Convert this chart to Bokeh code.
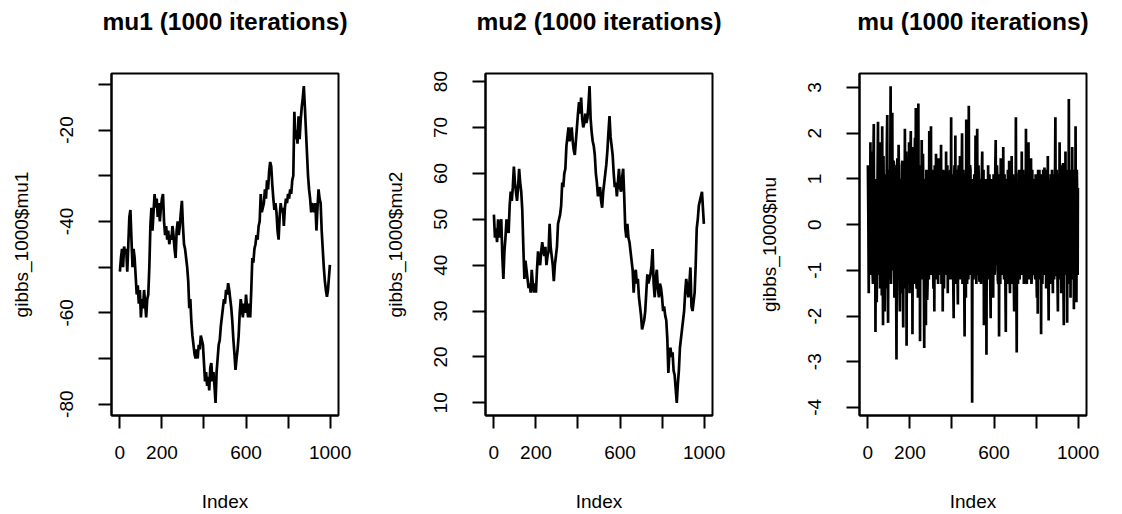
from bokeh.plotting import figure
from bokeh.layouts import row
from bokeh.models import Range1d, FixedTicker, Title
from bokeh.embed import file_html
from bokeh.resources import INLINE

# ---------------- data ----------------
titles = ["mu1 (1000 iterations)", "mu2 (1000 iterations)", "mu (1000 iterations)"]
ylabels = ["gibbs_1000$mu1", "gibbs_1000$mu2", "gibbs_1000$mu"]

# mu1: one reading every 5 iterations, plus the last iteration
mu1 = [
    -51, -48, -46, -50, -45.5, -47, -46, -51, -45, -39, -37.5, -44, -50, -46, -48, -52, -56, -54, -58, -55,
    -61, -57, -59, -55, -58, -61, -57, -56, -50, -41, -37, -42, -38, -34, -37, -35, -39, -36, -40, -37,
    -35, -34, -40, -43, -41, -44, -42, -45, -43, -44, -41, -43, -46, -48, -42, -40, -43, -41, -38, -35.5,
    -41, -45, -46, -48, -50, -53, -59, -57, -62, -65, -67, -69, -70, -68, -70, -67, -68, -65, -66, -67,
    -71, -75, -73, -76, -74, -77, -72, -71, -75, -73, -76, -79.7, -73, -70, -67, -66, -63, -61, -59, -57,
    -58, -55, -56, -53.5, -55, -57, -59, -62, -66, -69, -72.5, -70, -68, -65, -60, -57, -59, -61, -58, -60,
    -56, -59, -61, -58, -61, -55, -48, -49, -46, -45, -43, -44, -41, -40, -34, -38, -37, -36, -33, -35,
    -31, -33, -29, -27, -28, -32, -35, -37.5, -36, -38, -42, -44, -39, -36, -38, -37, -41, -37, -35, -36,
    -34, -35, -33, -34, -31, -30, -16, -22, -20, -23, -17, -22, -18, -15, -13, -10.4, -15, -20, -25, -30,
    -33, -35, -38, -36, -37, -38, -36, -42, -37, -33, -35, -36, -42, -46, -50, -53, -55, -56.5, -55, -52,
    -49.5,
]
idx_mu1 = [5 * i for i in range(len(mu1) - 1)] + [999]

# mu2: one reading every 5 iterations, plus the last iteration
mu2 = [
    51, 46, 48, 45, 50, 46, 49, 50, 42, 37, 43, 46, 50, 48, 47, 53, 56, 54, 57, 61.5,
    58, 56, 54, 57, 61, 58, 56, 52, 44, 37, 41, 39, 37, 35, 36, 34, 39, 36, 34, 36,
    34, 39, 43, 41, 40, 43, 45, 43, 42, 44, 40, 42, 43, 49, 44, 42, 40, 36.5, 40, 42,
    44, 49, 50, 51, 53, 58, 57, 60, 61, 66, 68, 70, 67, 68, 70, 67, 65, 64, 67, 70,
    73, 75.5, 73, 76.5, 72, 70, 71, 73, 71, 72, 75, 79, 72, 69, 67, 66, 64, 60, 58, 55,
    56, 57, 54, 52.5, 56, 58, 60, 62, 65, 69, 72.5, 68, 66, 64, 60, 57, 58, 55, 58, 61,
    57, 56, 59, 61, 55, 48, 46, 49, 46, 45, 43, 41, 39, 34, 38, 39, 36, 37, 33, 31,
    29, 26, 27, 28, 30, 34, 38, 36, 37, 38, 40, 43.5, 36, 33, 37, 39, 35, 33, 36, 35,
    33, 30, 31, 29, 28, 24, 16.5, 21, 22, 20, 21, 17, 16, 13, 10, 14, 17, 22, 24, 26,
    28, 30, 34, 37, 35, 33, 36, 39.5, 31, 30, 32, 34, 40, 48, 50, 53, 54, 55, 56, 52,
    49,
]
idx_mu2 = [5 * i for i in range(len(mu2) - 1)] + [999]

# mu: one reading every 2 iterations, plus the last iteration
mu = [
    1.3, 0.2, -1.5, 0.9, 0.6, -1.1, 1.8, -0.7, -0.9, 1.6, 0.4, -1.0, -1.3, 1.4, 2.2, -1.2, -0.5, 1.0, -2.35, 0.8,
    0.9, -1.7, -0.6, 1.1, 2.25, -0.9, -1.1, 1.65, 1.8, -1.4, -0.4, 1.2, 0.7, -1.55, 2.15, -0.6, -2.2, 1.5, 0.5, -1.2,
    -1.9, 0.9, 1.1, -1.4, -0.8, 1.7, 2.4, -1.1, -2.15, 1.2,
    0.3, 1.1, -1.2, 0.7, 3.03, -1.3, -0.6, 1.5, 2.45, -0.8, -1.0, 1.4, 1.3, -1.6, -0.7, 1.3, 0.8, -1.0, -2.95, 0.9,
    1.45, -1.2, -0.8, 1.75, 0.9, -1.3, -1.9, 1.0, 0.6, -1.5, -1.2, 1.3, 1.4, -1.1, -2.25, 0.8, 0.7, -1.4, 2.1, -0.7,
    -1.3, 1.6, -2.65, 1.0, 1.2, -1.3, -0.9, 1.1, 1.8, -1.5,
    -1.1, 1.2, 2.05, -1.0, -0.5, 1.7, -2.4, 0.9, 1.0, -1.3, -0.8, 1.4, 1.9, -0.8, 2.55, -1.2, -1.4, 1.0, 0.5, -1.6,
    2.65, -0.9, -1.1, 1.3, -2.55, 1.1, 0.8, -1.2, 1.85, -0.7, -1.2, 1.55, 0.6, -1.0, -2.7, 0.8, 1.0, -1.4, -2.2, 1.2,
    0.4, -1.65, -1.3, 1.1, 1.2, -1.2, 2.05, -0.8, -1.0, 1.3,
    2.15, -1.1, -0.7, 1.2, 0.9, -1.0, -1.4, 0.9, -1.9, 1.3, 0.8, -1.2, 1.55, -0.9, -1.2, 1.1, 0.5, -1.3, 1.45, -0.8,
    -1.0, 1.2, 0.3, -1.1, 1.75, -1.3, -0.8, 1.0, -1.9, 1.2, 1.1, -1.4, -0.6, 1.1, 0.9, -1.0, 1.6, -0.8, -1.1, 1.3,
    -1.5, 1.0, 0.7, -1.2, -0.9, 1.1, 1.2, -1.0, 2.35, -1.2,
    -1.0, 1.1, 0.6, -1.2, -2.05, 0.9, 1.3, -1.0, 1.95, -1.3, -0.9, 1.2, 0.4, -0.8, -1.75, 1.1, 1.3, -1.2, -0.7, 1.5,
    0.9, -1.1, -1.2, 1.0, 2.0, -1.3, -0.8, 1.2, 0.5, -1.0, -2.45, 0.9, 1.1, -1.6, 2.3, -0.9, -1.3, 1.1, 0.6, -1.2,
    2.6, -0.8, -1.0, 1.3, 1.2, -1.1, -0.6, 1.0, -3.9, 0.9,
    0.8, -1.2, -0.5, 1.1, 1.0, -1.0, 1.95, -0.9, -1.3, 1.2, 2.1, -1.1, -0.8, 1.3, 0.9, -1.2, -1.25, 1.0, 0.7, -1.3,
    -0.9, 1.1, 1.6, -1.0, -0.7, 1.2, -2.2, 0.8, 0.9, -1.3, -1.1, 1.0, -2.85, 0.9, 0.6, -1.1, 1.3, -1.2, -0.9, 1.1,
    0.8, -1.3, -2.05, 1.0, 0.5, -0.9, 0.9, -1.2, -1.6, 1.1,
    0.7, -1.1, -1.0, 1.2, 1.85, -0.9, -0.6, 1.3, 1.0, -1.2, -1.3, 1.0, -2.45, 1.1, 0.8, -1.3, 1.45, -1.0, -0.9, 1.2,
    0.6, -1.1, 1.7, -0.9, -1.2, 1.1, 0.4, -1.2, -2.35, 0.9, 1.0, -1.3, -0.8, 1.2, 0.5, -1.0, 1.4, -1.1, -1.5, 1.2,
    0.9, -1.3, 1.5, -0.8, -1.0, 1.1, 0.6, -1.2, -1.9, 1.0,
    0.9, -1.2, 2.35, -1.0, -2.8, 0.9, 0.5, -1.3, -1.0, 1.1, 1.2, -1.2, -0.6, 1.0, 0.8, -1.1, 1.6, -0.9, -1.1, 1.2,
    0.5, -1.3, -1.15, 1.1, 1.0, -1.0, 2.1, -1.2, -1.3, 1.0, 0.7, -1.1, 1.8, -1.2, -0.9, 1.3, 0.6, -1.0, 1.45, -1.3,
    -1.1, 1.2, 0.3, -1.1, -0.7, 1.0, 0.1, -0.9, -1.2, 1.1,
    0.8, -1.1, -1.6, 1.0, -1.95, 1.2, 0.6, -1.2, 1.2, -1.0, -0.9, 1.1, -2.4, 0.9, 1.0, -1.3, -0.8, 1.2, 0.5, -1.1,
    1.25, -0.9, -0.7, 1.2, -1.4, 1.0, 0.9, -1.2, 1.5, -1.1, -2.1, 1.0, 0.7, -1.3, -1.0, 1.1, 0.9, -1.2, 1.2, -0.9,
    -1.5, 1.1, 0.5, -1.2, -0.6, 1.0, 2.35, -1.1, -1.1, 1.2,
    0.6, -1.2, -1.9, 1.1, 1.0, -1.0, 1.8, -1.2, -0.8, 1.3, -1.5, 1.0, 0.7, -1.1, 1.35, -1.2, -2.2, 0.9, 0.5, -1.1,
    1.6, -1.0, -1.0, 1.2, -2.15, 1.1, 0.9, -1.3, 2.75, -1.0, -0.8, 1.1, -1.6, 1.2, 1.0, -1.1, 1.7, -0.9, -1.2, 1.2,
    -1.85, 1.0, 0.6, -1.3, 2.15, -1.0, -1.7, 1.2, 0.5, -1.1,
    0.8,
]
idx_mu = [2 * i for i in range(len(mu) - 1)] + [999]

x_ticks = [0, 200, 400, 600, 800, 1000]
x_tick_labels = ["0", "200", "", "600", "", "1000"]

y_ticks_mu1 = [-80, -70, -60, -50, -40, -30, -20, -10]
y_labels_mu1 = ["-80", "", "-60", "", "-40", "", "-20", ""]
y_ticks_mu2 = [10, 20, 30, 40, 50, 60, 70, 80]
y_labels_mu2 = ["10", "20", "30", "40", "50", "60", "70", "80"]
y_ticks_mu = [-4, -3, -2, -1, 0, 1, 2, 3]
y_labels_mu = ["-4", "-3", "-2", "-1", "0", "1", "2", "3"]

FONT = "Liberation Sans"


def make_panel(idx, vals, title, ylabel, yt, ytl):
    ymin, ymax = min(vals), max(vals)
    pad = 0.04 * (ymax - ymin)
    p = figure(width=374, height=514, output_backend="svg", toolbar_location=None,
               x_range=Range1d(-40, 1040), y_range=Range1d(ymin - pad, ymax + pad),
               min_border_left=111, min_border_right=36, min_border_top=73, min_border_bottom=98)
    p.title = None
    p.line(idx, vals, line_color="black", line_width=2.7)
    p.xgrid.visible = False
    p.ygrid.visible = False
    p.background_fill_color = "white"
    p.border_fill_color = "white"
    p.outline_line_color = "black"
    p.outline_line_width = 2
    p.outline_line_alpha = 1

    # blank spacer next to the frame, then the real title further out
    p.add_layout(Title(text=" ", text_font=FONT, text_font_size="33px", standoff=0), "above")
    p.add_layout(Title(text=title, align="center", text_font=FONT, text_font_style="bold",
                       text_font_size="24.5px", text_color="black", standoff=0), "above")

    for ax in (p.xaxis[0], p.yaxis[0]):
        ax.axis_line_color = "black"
        ax.axis_line_width = 2
        ax.major_tick_line_color = "black"
        ax.major_tick_line_width = 2
        ax.major_tick_out = 13
        ax.major_tick_in = 0
        ax.minor_tick_line_color = None
        ax.major_label_text_font = FONT
        ax.major_label_text_font_size = "19px"
        ax.major_label_text_color = "black"
        ax.axis_label_text_font = FONT
        ax.axis_label_text_font_size = "19px"
        ax.axis_label_text_font_style = "normal"
        ax.axis_label_text_color = "black"

    p.xaxis.ticker = FixedTicker(ticks=x_ticks)
    p.xaxis.major_label_overrides = {t: l for t, l in zip(x_ticks, x_tick_labels)}
    p.xaxis.axis_label = "Index"
    p.xaxis.major_label_standoff = 17
    p.xaxis.axis_label_standoff = 29

    p.yaxis.ticker = FixedTicker(ticks=yt)
    p.yaxis.major_label_overrides = {t: l for t, l in zip(yt, ytl)}
    p.yaxis.major_label_orientation = "vertical"
    p.yaxis.axis_label = ylabel
    p.yaxis.major_label_standoff = 25
    p.yaxis.axis_label_standoff = 26
    return p


p1 = make_panel(idx_mu1, mu1, titles[0], ylabels[0], y_ticks_mu1, y_labels_mu1)
p2 = make_panel(idx_mu2, mu2, titles[1], ylabels[1], y_ticks_mu2, y_labels_mu2)
p3 = make_panel(idx_mu, mu, titles[2], ylabels[2], y_ticks_mu, y_labels_mu)

layout = row(p1, p2, p3)
open("out.html", "w").write(file_html(layout, INLINE))
